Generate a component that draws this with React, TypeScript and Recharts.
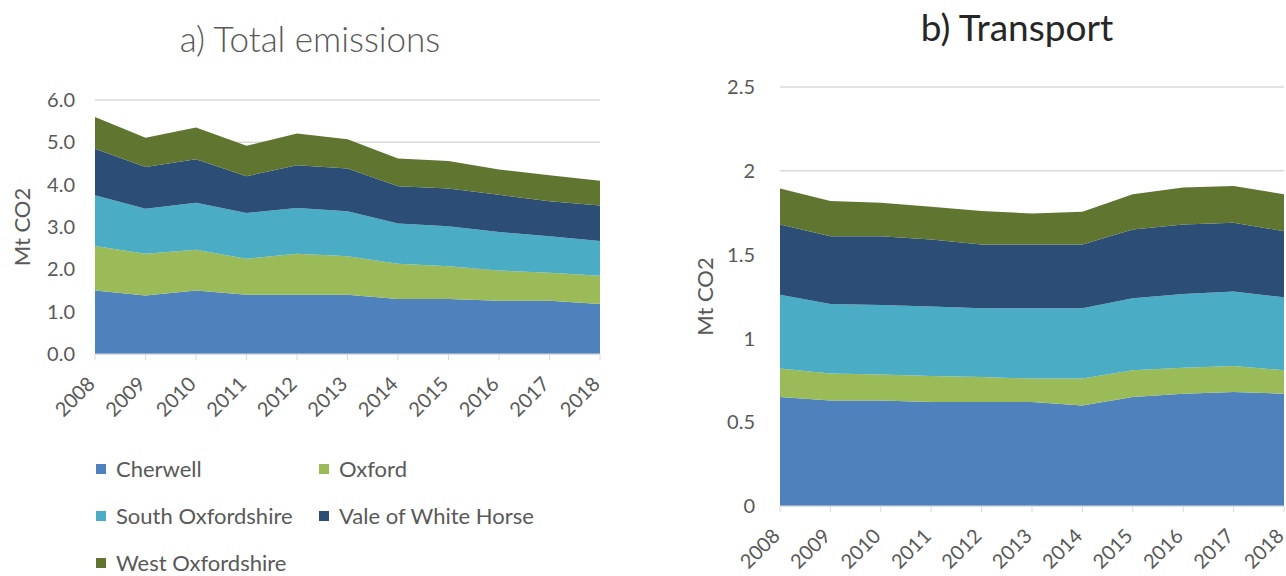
import React from "react";
import { AreaChart, Area, XAxis, YAxis, CartesianGrid } from "recharts";

// years on the x axis
const years = ["2008", "2009", "2010", "2011", "2012", "2013", "2014", "2015", "2016", "2017", "2018"];

const districts = ["Cherwell", "Oxford", "South Oxfordshire", "Vale of White Horse", "West Oxfordshire"];
const colors = ["#4F81BD", "#9BBB59", "#4BACC6", "#2C4D75", "#5F7530"];

// a) total emissions, Mt CO2
const totalCherwell = [1.5, 1.38, 1.5, 1.4, 1.4, 1.4, 1.3, 1.3, 1.26, 1.26, 1.18];
const totalOxford = [1.05, 0.99, 0.96, 0.85, 0.97, 0.91, 0.83, 0.77, 0.71, 0.66, 0.67];
const totalSouth = [1.2, 1.06, 1.11, 1.08, 1.08, 1.06, 0.95, 0.95, 0.91, 0.86, 0.82];
const totalVale = [1.1, 0.99, 1.03, 0.87, 1.01, 1.01, 0.88, 0.89, 0.88, 0.83, 0.84];
const totalWest = [0.75, 0.69, 0.75, 0.72, 0.75, 0.69, 0.66, 0.65, 0.6, 0.61, 0.58];

// b) transport, Mt CO2
const transCherwell = [0.65, 0.63, 0.63, 0.62, 0.62, 0.62, 0.6, 0.65, 0.67, 0.68, 0.67];
const transOxford = [0.17, 0.16, 0.155, 0.155, 0.15, 0.14, 0.16, 0.16, 0.155, 0.155, 0.14];
const transSouth = [0.44, 0.415, 0.415, 0.415, 0.41, 0.42, 0.42, 0.43, 0.44, 0.445, 0.435];
const transVale = [0.42, 0.405, 0.41, 0.4, 0.38, 0.38, 0.38, 0.41, 0.415, 0.41, 0.395];
const transWest = [0.215, 0.21, 0.2, 0.195, 0.2, 0.185, 0.195, 0.21, 0.22, 0.22, 0.22];

const totalTicks = [0, 1, 2, 3, 4, 5, 6];
const transTicks = [0, 0.5, 1, 1.5, 2, 2.5];

const keys = ["cherwell", "oxford", "south", "vale", "west"];

function buildRows(series: number[][]) {
  return years.map((year, i) => {
    const row: Record<string, string | number> = { year };
    keys.forEach((k, j) => {
      row[k] = series[j][i];
    });
    return row;
  });
}

const totalData = buildRows([totalCherwell, totalOxford, totalSouth, totalVale, totalWest]);
const transData = buildRows([transCherwell, transOxford, transSouth, transVale, transWest]);

const FONT = "Lato, 'Open Sans', sans-serif";
const TEXT = "#595959";
const GRID = "#D9D9D9";

function YearTick(props: any) {
  const { x, y, payload } = props;
  return (
    <g transform={`translate(${x - 3},${y + 19})`}>
      <text
        x={0}
        y={6}
        textAnchor="end"
        transform="rotate(-45)"
        fill={TEXT}
        fontSize={20}
        fontFamily={FONT}
      >
        {payload.value}
      </text>
    </g>
  );
}

function Areas() {
  return keys.map((k, i) => (
    <Area
      key={k}
      type="linear"
      dataKey={k}
      name={districts[i]}
      stackId="s"
      stroke="none"
      fill={colors[i]}
      fillOpacity={1}
      dot={false}
      activeDot={false}
      isAnimationActive={false}
    />
  ));
}

const axisLabel = { textAnchor: "middle", fill: TEXT, fontSize: 22, fontFamily: FONT };

export default function App() {
  return (
    <div
      style={{
        position: "absolute",
        left: 0,
        top: 0,
        width: 1286,
        height: 576,
        background: "#fff",
        fontFamily: FONT,
        color: TEXT,
        overflow: "hidden",
      }}
    >
      <div style={{ position: "absolute", left: 60, width: 500, top: 17, textAlign: "center", fontSize: 35, fontWeight: 300 }}>
        a) Total emissions
      </div>
      <div style={{ position: "absolute", left: 767, width: 500, top: 4, textAlign: "center", fontSize: 37, color: "#262626" }}>
        b) Transport
      </div>

      <div style={{ position: "absolute", left: 0, top: 0 }}>
        <AreaChart width={640} height={440} data={totalData} margin={{ top: 100, right: 40, left: 0, bottom: 26 }}>
          <CartesianGrid vertical={false} stroke={GRID} strokeWidth={1.5} />
          <XAxis
            dataKey="year"
            height={60}
            interval={0}
            stroke={GRID}
            tickSize={6}
            tickMargin={2}
            tick={<YearTick />}
          />
          <YAxis
            width={95}
            domain={[0, 6]}
            ticks={totalTicks}
            tickFormatter={(v: number) => v.toFixed(1)}
            axisLine={false}
            tickLine={false}
            tickSize={0}
            tickMargin={20}
            tick={{ fill: TEXT, fontSize: 20, fontFamily: FONT }}
            label={{ value: "Mt CO2", angle: -90, position: "insideLeft", offset: 22, style: axisLabel }}
          />
          {Areas()}
        </AreaChart>
      </div>

      <div style={{ position: "absolute", left: 660, top: 0 }}>
        <AreaChart width={626} height={576} data={transData} margin={{ top: 87, right: 2, left: 0, bottom: 0 }}>
          <CartesianGrid vertical={false} stroke={GRID} strokeWidth={1.5} />
          <XAxis
            dataKey="year"
            height={70}
            interval={0}
            stroke={GRID}
            tickSize={6}
            tickMargin={2}
            tick={<YearTick />}
          />
          <YAxis
            width={120}
            domain={[0, 2.5]}
            ticks={transTicks}
            axisLine={false}
            tickLine={false}
            tickSize={0}
            tickMargin={25}
            tick={{ fill: TEXT, fontSize: 20, fontFamily: FONT }}
            label={{ value: "Mt CO2", angle: -90, position: "insideLeft", offset: 45, style: axisLabel }}
          />
          {Areas()}
        </AreaChart>
      </div>

      <div style={{ position: "absolute", left: 96, top: 455, width: 520 }}>
        {districts.map((d, i) => (
          <div
            key={d}
            style={{
              position: "absolute",
              left: (i % 2) * 223,
              top: Math.floor(i / 2) * 47,
              display: "flex",
              alignItems: "center",
              fontSize: 22,
              whiteSpace: "nowrap",
            }}
          >
            <span style={{ display: "inline-block", width: 10, height: 10, background: colors[i], marginRight: 10 }} />
            {d}
          </div>
        ))}
      </div>
    </div>
  );
}
